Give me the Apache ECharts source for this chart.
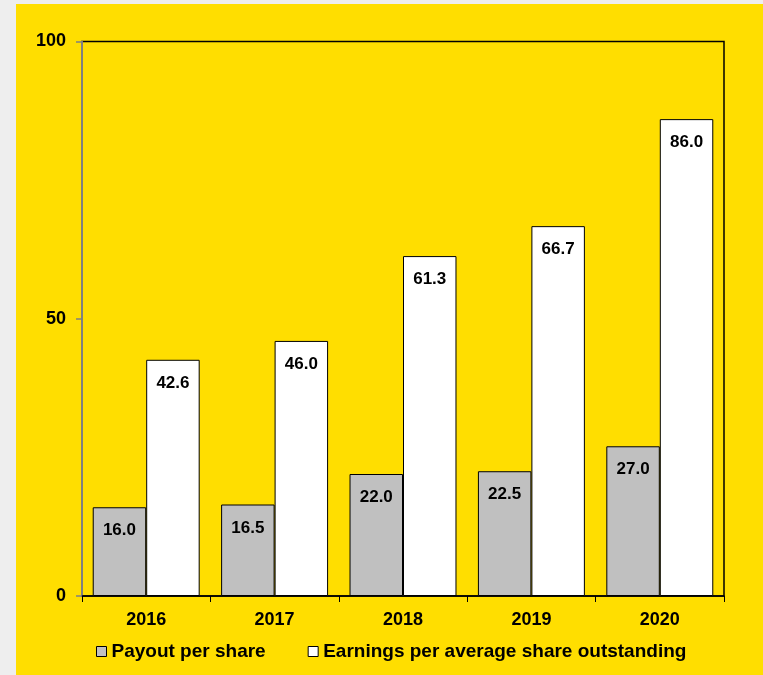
<!DOCTYPE html>
<html><head><meta charset="utf-8">
<script src="https://cdn.jsdelivr.net/npm/echarts@6/dist/echarts.min.js"></script>
<style>html,body{margin:0;padding:0;background:#EEEEEE;}#c{width:763px;height:675px;}</style>
</head><body><div id="c"></div>
<script>
const categories = ['2016','2017','2018','2019','2020'];
const payout = [16.0, 16.5, 22.0, 22.5, 27.0];
const earnings = [42.6, 46.0, 61.3, 66.7, 86.0];
const seriesNames = ['Payout per share','Earnings per average share outstanding'];
const yTicks = [0, 50, 100];

const chart = echarts.init(document.getElementById('c'));
const font = 'Liberation Sans, Arial, sans-serif';
const label = {show:true, position:'insideTop', distance:15, color:'#000', fontFamily:font, fontWeight:'bold', fontSize:17, formatter: p => p.value.toFixed(1)};
chart.setOption({
  backgroundColor:'#EEEEEE',
  animation:false,
  graphic:[{type:'rect', z:-10, shape:{x:16,y:4,width:763,height:700}, style:{fill:'#FFDE00'}, silent:true}],
  grid:{left:82,right:39,top:41.5,bottom:79,show:true,borderColor:'#000',borderWidth:1.5,backgroundColor:'transparent'},
  legend:{bottom:9,left:91,itemWidth:10,itemHeight:10,itemGap:42,icon:'rect',
    textStyle:{fontFamily:font,fontWeight:'bold',fontSize:19,color:'#000'},
    data:[{name:seriesNames[0],itemStyle:{color:'#C0C0C0',borderColor:'#000',borderWidth:1}},{name:seriesNames[1],itemStyle:{color:'#FFFFFF',borderColor:'#000',borderWidth:1}}]},
  xAxis:{type:'category',data:categories,
    axisLine:{lineStyle:{color:'#000',width:1.5}},
    axisTick:{show:true,length:6,lineStyle:{color:'#000'}},
    axisLabel:{margin:15,color:'#000',fontFamily:font,fontWeight:'bold',fontSize:18}},
  yAxis:{type:'value',min:0,max:100,interval:50,
    axisLine:{show:true,lineStyle:{color:'#808080',width:2}},
    axisTick:{show:true,length:6,lineStyle:{color:'#808080',width:1.5}},
    splitLine:{show:false},
    axisLabel:{margin:16,color:'#000',fontFamily:font,fontWeight:'bold',fontSize:18,formatter:v=>yTicks.includes(v)?String(v):''}},
  series:[
    {name:seriesNames[0],type:'bar',data:payout,barGap:'0%',barCategoryGap:'16.7%',
      itemStyle:{color:'#C0C0C0',borderColor:'#000',borderWidth:1},label:label},
    {name:seriesNames[1],type:'bar',data:earnings,barGap:'0%',barCategoryGap:'16.7%',
      itemStyle:{color:'#FFFFFF',borderColor:'#000',borderWidth:1},label:label}
  ]
});
</script></body></html>
